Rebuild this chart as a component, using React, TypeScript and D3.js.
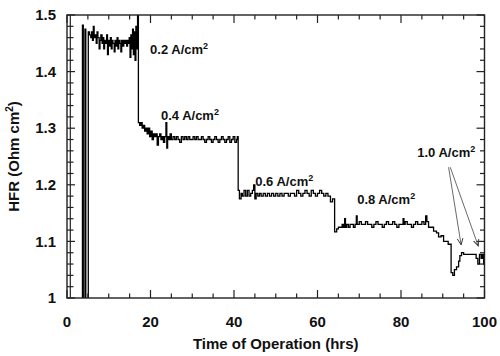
import React from "react";
import * as d3 from "d3";

// ---- data ----
const timeHrs: number[] = [
  3.5, 3.7, 3.9, 4.3, 4.5, 5.1,
  5.4, 5.7, 5.9, 6.1, 6.3, 6.5, 6.8, 7.0, 7.2, 7.4, 7.7, 7.9, 8.1, 8.4, 8.6, 8.8, 9.0, 9.3, 9.5, 9.7, 9.9,
  10.2, 10.4, 10.6, 10.8, 11.0, 11.3, 11.5, 11.7, 12.0, 12.2, 12.4, 12.7, 12.9, 13.1, 13.4, 13.6, 13.8,
  14.1, 14.3, 14.5, 14.7, 14.9, 15.1, 15.3, 15.5, 15.7, 15.9, 16.1, 16.3, 16.5, 16.7, 16.9,
  17.1, 17.4, 17.7, 18.0, 18.3, 18.6, 18.9, 19.2, 19.5, 19.8, 20.1, 20.4, 20.7, 21.0, 21.3, 21.6, 21.9,
  22.2, 22.5, 22.8, 23.1, 23.4, 23.7, 23.9, 24.1, 24.4, 24.7, 25.0, 25.4, 25.8, 26.2, 26.6, 27.0, 27.4,
  27.8, 28.2, 28.6, 29.0, 29.4, 29.8, 30.2, 30.6, 31.0, 31.4, 31.8, 32.2, 32.6, 33.0, 33.4, 33.8, 34.2,
  34.6, 35.0, 35.4, 35.8, 36.2, 36.6, 37.0, 37.4, 37.8, 38.2, 38.6, 39.0, 39.4, 39.8, 40.2, 40.6, 40.8,
  41.0, 41.3, 41.7, 42.0, 42.4, 42.8, 43.2, 43.6, 44.0, 44.4, 44.7, 45.0, 45.3, 45.7, 46.1, 46.5, 47.0,
  47.5, 48.0, 48.5, 49.0, 49.5, 50.0, 50.5, 51.0, 51.5, 52.0, 52.5, 53.0, 53.5, 54.0, 54.5, 55.0, 55.5,
  56.0, 56.5, 57.0, 57.5, 58.0, 58.5, 59.0, 59.5, 60.0, 60.5, 61.0, 61.5, 62.0, 62.5, 63.1, 63.6,
  64.1, 64.6, 65.0, 65.5, 65.9, 66.2, 66.5, 66.7, 67.0, 67.4, 67.8, 68.2, 68.6, 69.0, 69.3, 69.5, 70.0,
  70.5, 71.0, 71.5, 72.0, 72.5, 73.0, 73.5, 74.0, 74.5, 75.0, 75.5, 76.0, 76.5, 77.0, 77.5, 78.0, 78.5,
  79.0, 79.5, 80.0, 80.5, 80.7, 81.0, 81.5, 82.0, 82.5, 83.0, 83.5, 84.0, 84.5, 85.0, 85.5, 85.9, 86.2,
  86.6, 87.2, 87.8, 88.5, 89.0, 89.6, 90.2, 90.8, 91.3, 92.0, 92.4, 92.8, 93.3, 93.8, 94.1, 94.5, 95.0,
  95.5, 96.0, 96.5, 97.0, 97.5, 98.0, 98.4, 98.8, 99.2, 99.5, 99.8, 100.0,
];

const hfr: number[] = [
  0.9, 1.482, 0.9, 1.475, 0.9, 1.47,
  1.465, 1.46, 1.47, 1.455, 1.48, 1.46, 1.465, 1.45, 1.47, 1.46, 1.44, 1.455, 1.465, 1.45, 1.46, 1.44, 1.455, 1.45, 1.465, 1.43, 1.455,
  1.445, 1.46, 1.44, 1.455, 1.45, 1.435, 1.455, 1.445, 1.46, 1.44, 1.455, 1.45, 1.435, 1.455, 1.445, 1.455, 1.45,
  1.455, 1.445, 1.455, 1.45, 1.46, 1.425, 1.465, 1.44, 1.475, 1.43, 1.47, 1.42, 1.48, 1.44, 1.5,
  1.31, 1.305, 1.31, 1.3, 1.305, 1.295, 1.3, 1.29, 1.3, 1.285, 1.295, 1.28, 1.29, 1.285, 1.29, 1.27, 1.285,
  1.29, 1.28, 1.285, 1.275, 1.285, 1.31, 1.265, 1.285, 1.28, 1.29, 1.28, 1.285, 1.28, 1.285, 1.28, 1.275, 1.285,
  1.28, 1.285, 1.28, 1.285, 1.28, 1.28, 1.285, 1.28, 1.285, 1.28, 1.28, 1.285, 1.28, 1.275, 1.28, 1.285, 1.28,
  1.275, 1.28, 1.285, 1.28, 1.275, 1.28, 1.285, 1.28, 1.275, 1.28, 1.285, 1.275, 1.28, 1.285, 1.275, 1.28, 1.285,
  1.19, 1.175, 1.185, 1.18, 1.19, 1.18, 1.19, 1.18, 1.185, 1.19, 1.2, 1.175, 1.185, 1.18, 1.185, 1.18, 1.185,
  1.18, 1.185, 1.18, 1.185, 1.18, 1.185, 1.18, 1.185, 1.18, 1.185, 1.185, 1.18, 1.185, 1.185, 1.18, 1.19, 1.185,
  1.18, 1.185, 1.19, 1.185, 1.18, 1.19, 1.185, 1.18, 1.185, 1.19, 1.185, 1.18, 1.185, 1.18, 1.17, 1.175,
  1.117, 1.122, 1.125, 1.125, 1.13, 1.125, 1.14, 1.125, 1.13, 1.125, 1.13, 1.13, 1.125, 1.13, 1.145, 1.13, 1.135,
  1.13, 1.13, 1.135, 1.13, 1.13, 1.125, 1.13, 1.135, 1.13, 1.13, 1.125, 1.13, 1.135, 1.13, 1.13, 1.135, 1.13,
  1.125, 1.13, 1.13, 1.14, 1.13, 1.135, 1.13, 1.13, 1.125, 1.13, 1.135, 1.13, 1.13, 1.135, 1.13, 1.145, 1.135,
  1.125, 1.125, 1.118, 1.115, 1.108, 1.11, 1.1, 1.1, 1.095, 1.045, 1.04, 1.05, 1.055, 1.065, 1.075, 1.08, 1.077,
  1.077, 1.077, 1.077, 1.077, 1.077, 1.07, 1.06, 1.077, 1.07, 1.077, 1.06, 1.075,
];

const xTicksMajor: number[] = [0, 20, 40, 60, 80, 100];
const yTicksMajor: number[] = [1, 1.1, 1.2, 1.3, 1.4, 1.5];
const yTickLabels: string[] = ["1", "1.1", "1.2", "1.3", "1.4", "1.5"];

const labelText: string[] = ["0.2 A/cm", "0.4 A/cm", "0.6 A/cm", "0.8 A/cm", "1.0 A/cm"];
const labelX: number[] = [19.9, 22.5, 45.1, 69.5, 83.9];
const labelY: number[] = [1.431, 1.314, 1.198, 1.166, 1.249];

const arrowFromX: number[] = [91.4, 91.8];
const arrowFromY: number[] = [1.231, 1.231];
const arrowToX: number[] = [94.4, 98.5];
const arrowToY: number[] = [1.094, 1.092];

const FONT = "'Liberation Sans', Arial, sans-serif";

export default function App() {
  const W = 500;
  const H = 356;
  const x = d3.scaleLinear().domain([0, 100]).range([67, 484.5]);
  const y = d3.scaleLinear().domain([1, 1.5]).range([298, 15]);
  const [x0, x1] = x.range();
  const [yb, yt] = y.range();

  const pts: [number, number][] = timeHrs.map((t, i) => [t, hfr[i]]);
  const line = d3
    .line<[number, number]>()
    .x((d) => x(d[0]))
    .y((d) => y(d[1]))
    .curve(d3.curveStepAfter);

  const xMinor = d3.range(0, 100.001, 5).filter((v) => v % 20 !== 0);
  const yMinor = d3.range(0, 26).map((i) => 1 + i * 0.02).filter((v) => Math.abs(v * 10 - Math.round(v * 10)) > 1e-6);

  const majorLen = 8;
  const minorLen = 4.5;
  const stroke = "#222";

  return (
    <svg
      width={W}
      height={H}
      style={{ position: "absolute", left: 0, top: 0, background: "#fff" }}
      fontFamily={FONT}
    >
      <defs>
        <clipPath id="plotClip">
          <rect x={x0} y={yt} width={x1 - x0} height={yb - yt} />
        </clipPath>
        <marker id="arrowHead" viewBox="0 0 10 10" refX="9" refY="5" markerWidth="7" markerHeight="7" orient="auto" markerUnits="userSpaceOnUse">
          <path d="M0,1 L9,5 L0,9" fill="none" stroke="#333" strokeWidth={1.3} />
        </marker>
      </defs>
      <rect x={0} y={0} width={W} height={H} fill="#fff" />

      {/* data */}
      <path d={line(pts) || ""} fill="none" stroke="#000" strokeWidth={1.3} clipPath="url(#plotClip)" />

      {/* frame */}
      <rect x={x0} y={yt} width={x1 - x0} height={yb - yt} fill="none" stroke={stroke} strokeWidth={1.4} />
      <line x1={x0 + 3.3} x2={x0 + 3.3} y1={yt} y2={yb} stroke={stroke} strokeWidth={1.2} />

      {/* x ticks */}
      {xTicksMajor.map((v) => (
        <g key={"xm" + v}>
          <line x1={x(v)} x2={x(v)} y1={yb} y2={yb - majorLen} stroke={stroke} strokeWidth={1.2} />
          <line x1={x(v)} x2={x(v)} y1={yt} y2={yt + majorLen} stroke={stroke} strokeWidth={1.2} />
          <text x={x(v)} y={327} textAnchor="middle" fontSize={15} fontWeight="bold" fill="#111">
            {v}
          </text>
        </g>
      ))}
      {xMinor.map((v) => (
        <g key={"xn" + v}>
          <line x1={x(v)} x2={x(v)} y1={yb} y2={yb - minorLen} stroke={stroke} strokeWidth={1.2} />
          <line x1={x(v)} x2={x(v)} y1={yt} y2={yt + minorLen} stroke={stroke} strokeWidth={1.2} />
        </g>
      ))}

      {/* y ticks */}
      {yTicksMajor.map((v, i) => (
        <g key={"ym" + v}>
          <line x1={x0} x2={x0 + majorLen} y1={y(v)} y2={y(v)} stroke={stroke} strokeWidth={1.2} />
          <line x1={x1} x2={x1 - majorLen} y1={y(v)} y2={y(v)} stroke={stroke} strokeWidth={1.2} />
          <text x={56} y={y(v)} dy="0.35em" textAnchor="end" fontSize={15} fontWeight="bold" fill="#111">
            {yTickLabels[i]}
          </text>
        </g>
      ))}
      {yMinor.map((v) => (
        <g key={"yn" + v}>
          <line x1={x0} x2={x0 + minorLen + 2} y1={y(v)} y2={y(v)} stroke={stroke} strokeWidth={1.2} />
          <line x1={x1} x2={x1 - minorLen} y1={y(v)} y2={y(v)} stroke={stroke} strokeWidth={1.2} />
        </g>
      ))}

      {/* axis titles */}
      <text x={(x0 + x1) / 2} y={349} textAnchor="middle" fontSize={15} fontWeight="bold" fill="#111">
        Time of Operation (hrs)
      </text>
      <text
        transform={`translate(19, ${(yt + yb) / 2}) rotate(-90)`}
        textAnchor="middle"
        fontSize={15}
        fontWeight="bold"
        fill="#111"
      >
        HFR (Ohm cm
        <tspan dy={-6} fontSize={10}>2</tspan>
        <tspan dy={6}>)</tspan>
      </text>

      {/* annotations */}
      {labelText.map((t, i) => (
        <text key={"lab" + i} x={x(labelX[i])} y={y(labelY[i])} fontSize={13} fontWeight="bold" fill="#111">
          {t}
          <tspan dy={-5} fontSize={9}>2</tspan>
        </text>
      ))}
      {arrowFromX.map((v, i) => (
        <line
          key={"arr" + i}
          x1={x(v)}
          y1={y(arrowFromY[i])}
          x2={x(arrowToX[i])}
          y2={y(arrowToY[i])}
          stroke="#444"
          strokeWidth={0.8}
          markerEnd="url(#arrowHead)"
        />
      ))}
    </svg>
  );
}
